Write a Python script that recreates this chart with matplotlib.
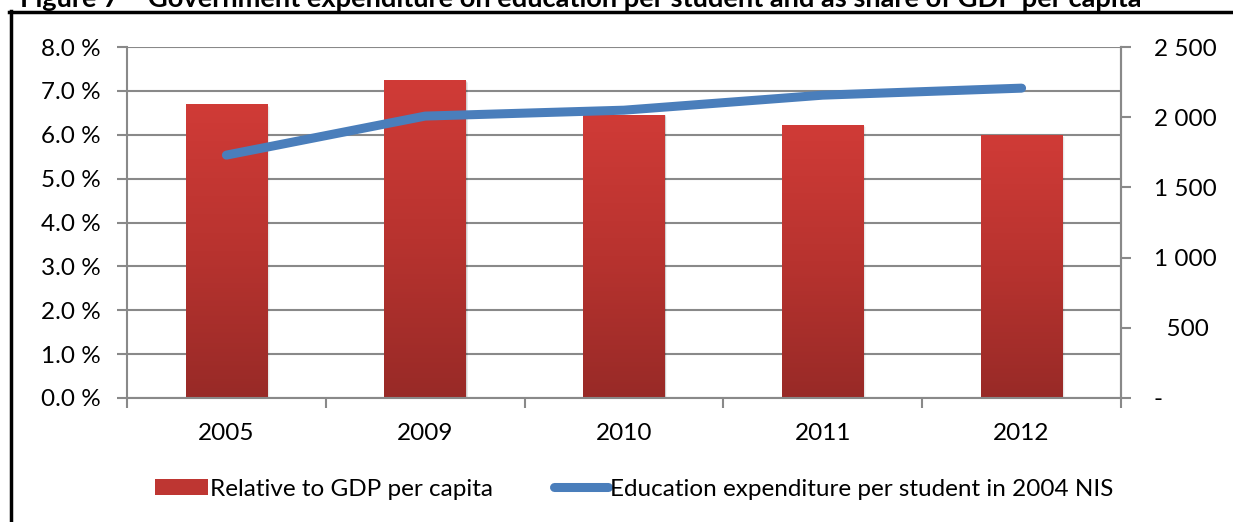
import numpy as np
import matplotlib.pyplot as plt
from matplotlib.lines import Line2D
from matplotlib.colors import LinearSegmentedColormap

plt.rcParams['font.family'] = ['Lato', 'DejaVu Sans']

# data
years = ['2005', '2009', '2010', '2011', '2012']
share_gdp = [6.69, 7.24, 6.46, 6.23, 6.00]          # % of GDP per capita
spend_per_student = [1730, 2008, 2050, 2157, 2207]  # 2004 NIS

left_ticks = [0, 1, 2, 3, 4, 5, 6, 7, 8]
left_labels = ['%.1f %%' % v for v in left_ticks]
right_ticks = [0, 500, 1000, 1500, 2000, 2500]
right_labels = ['-', '  500', '1 000', '1 500', '2 000', '2 500']

title = 'Figure 7 \u2013 Government expenditure on education per student and as share of GDP per capita'

grid_c = '#898989'
blue = '#4A7EBB'
red_mid = '#BE3632'
fs = 17.5

fig = plt.figure(figsize=(12.33, 5.22), dpi=100)
ax = fig.add_axes([127 / 1233, 1 - 398 / 522, (1121 - 127) / 1233, (398 - 47) / 522])

x = np.arange(len(years))
bars = ax.bar(x, share_gdp, width=0.41, color=red_mid, zorder=2,
              label='Relative to GDP per capita')

# vertical gradient inside each bar (dark at the bottom, lighter on top)
cmap = LinearSegmentedColormap.from_list('bar_red', ['#982A27', '#B8332F', '#D03B37'])
grad = np.linspace(0, 1, 256).reshape(-1, 1)
for b in bars:
    x0 = b.get_x()
    w = b.get_width()
    h = b.get_height()
    im = ax.imshow(grad, cmap=cmap, origin='lower', aspect='auto',
                   extent=[x0, x0 + w, 0, h], zorder=2.5)
    im.set_clip_path(b)
    # soft shadow on the right/bottom
    for k, a in enumerate([0.10, 0.06, 0.03]):
        off = 0.004 * (k + 1)
        ax.add_patch(plt.Rectangle((x0 + off, -0.02 * (k + 1)), w, h,
                                   facecolor='black', alpha=a, edgecolor='none', zorder=1.5))

ax.set_xlim(-0.5, len(years) - 0.5)
ax.set_ylim(0, 8)
ax.set_yticks(left_ticks)
ax.set_yticklabels(left_labels)
ax.yaxis.grid(True, color=grid_c, linewidth=1.5, zorder=0)
ax.set_axisbelow(True)

ax.set_xticks(x)
ax.set_xticklabels(years)
ax.set_xticks(np.arange(len(years) + 1) - 0.5, minor=True)
ax.tick_params(axis='x', which='major', length=0, pad=18, labelsize=fs)
ax.tick_params(axis='x', which='minor', length=7, width=1.5, color=grid_c)
ax.tick_params(axis='y', length=7, width=1.5, color=grid_c, pad=12, labelsize=fs)

ax.spines['top'].set_visible(False)
for s in ['left', 'bottom', 'right']:
    ax.spines[s].set_color(grid_c)
    ax.spines[s].set_linewidth(1.5)

# second axis for expenditure per student
ax2 = ax.twinx()
ax2.plot(x, spend_per_student, color=blue, linewidth=6.5, solid_capstyle='round',
         solid_joinstyle='round', zorder=5,
         label='Education expenditure per student in 2004 NIS')
ax2.set_ylim(0, 2500)
ax2.set_yticks(right_ticks)
ax2.set_yticklabels(right_labels, ha='left')
ax2.tick_params(axis='y', length=7, width=1.5, color=grid_c, pad=16.5, labelsize=fs)
for s in ['top', 'left', 'bottom']:
    ax2.spines[s].set_visible(False)
ax2.spines['right'].set_color(grid_c)
ax2.spines['right'].set_linewidth(1.5)

# legend below the plot
h1, l1 = ax.get_legend_handles_labels()
h2, l2 = ax2.get_legend_handles_labels()
leg = fig.legend(h1 + h2, l1 + l2, loc='center', bbox_to_anchor=(634 / 1233, 1 - 489 / 522),
                 ncol=2, frameon=False, fontsize=fs, handlelength=2.2,
                 handletextpad=0.1, columnspacing=2.5, handleheight=0.65,
                 borderpad=0, borderaxespad=0)

# outer frame
fig.add_artist(Line2D([10.5 / 1233, 10.5 / 1233], [0, 1 - 11 / 522],
                      transform=fig.transFigure, color='black', linewidth=2.5))
fig.add_artist(Line2D([9 / 1233, 1], [1 - 12 / 522, 1 - 12 / 522],
                      transform=fig.transFigure, color='black', linewidth=2.5))

# title, partly above the top edge
t = fig.text(20 / 1233, 1 - 7 / 522, title, ha='left', va='baseline',
             fontsize=18, fontweight='bold')
fig.canvas.draw()
bb = t.get_window_extent()
t.set_fontsize(18 * 1127 / bb.width)

fig.savefig('out.png', dpi=100)
